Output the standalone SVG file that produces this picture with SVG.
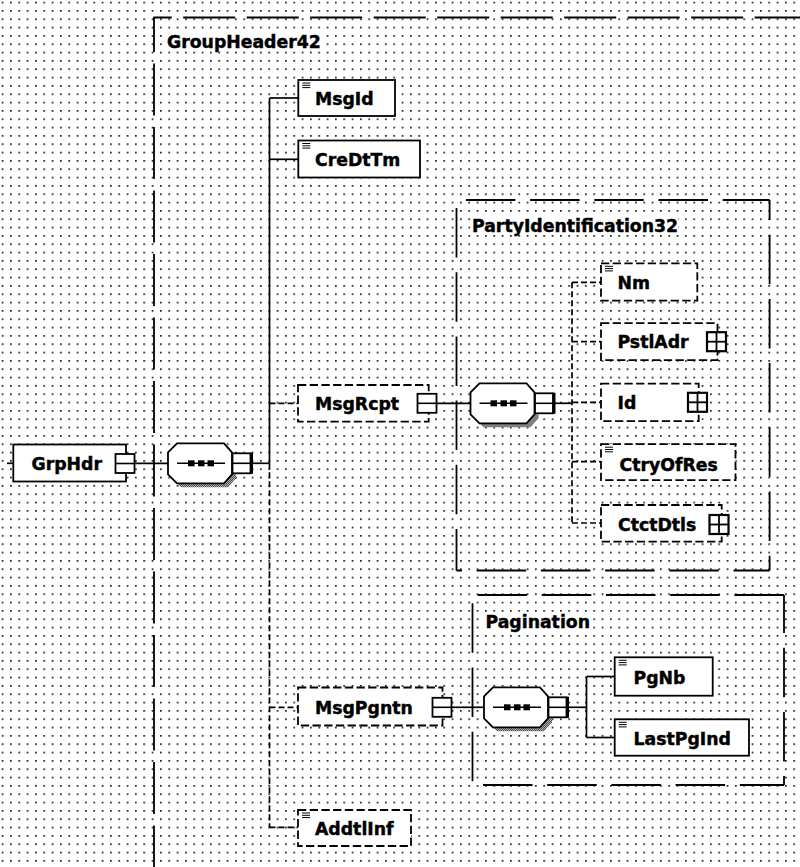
<svg xmlns="http://www.w3.org/2000/svg" xmlns:xlink="http://www.w3.org/1999/xlink" width="800" height="867" viewBox="0 0 800 867">
<style>
  .lbl{font-family:"DejaVu Sans","Liberation Sans",sans-serif;font-weight:bold;font-size:17.3px;fill:#000;stroke:#000;stroke-width:0.45}
  .box{fill:#fff;stroke:#000;stroke-width:1.8}
  .opt{stroke-dasharray:8.3 3.4}
  .type{fill:none;stroke:#000;stroke-width:1.8}
  .tA{stroke-dasharray:52 11.5}
  .tB{stroke-dasharray:49.5 14.7}
  .c{fill:none;stroke:#000;stroke-width:1.7}
  .d{stroke-dasharray:6 3}
  .tbg{fill:#fff}
</style>
<defs>
  <pattern id="grid" x="1.7" y="1.7" width="8.333" height="8.333" patternUnits="userSpaceOnUse">
    <rect x="0" y="0" width="1.7" height="1.7" fill="#222"/>
  </pattern>
  <pattern id="dith" x="0" y="0" width="2" height="2" patternUnits="userSpaceOnUse">
    <rect width="2" height="2" fill="#fff"/>
    <rect x="0" y="0" width="1" height="1" fill="#000"/>
    <rect x="1" y="1" width="1" height="1" fill="#000"/>
  </pattern>
  <g id="btnMinus">
    <rect x="0" y="0" width="19" height="19" fill="#fff" stroke="#000" stroke-width="1.8"/>
    <line x1="0" y1="9.5" x2="19" y2="9.5" stroke="#000" stroke-width="1.6"/>
  </g>
  <g id="btnPlus">
    <rect x="0" y="0" width="19" height="19" fill="#fff" stroke="#000" stroke-width="2.2"/>
    <line x1="0" y1="9.5" x2="19" y2="9.5" stroke="#000" stroke-width="1.8"/>
    <line x1="9.5" y1="0" x2="9.5" y2="19" stroke="#000" stroke-width="1.8"/>
  </g>
  <g id="icon" stroke="#000" stroke-width="1">
    <line x1="4" y1="3" x2="12" y2="3"/>
    <line x1="4" y1="5.3" x2="12" y2="5.3"/>
    <line x1="4" y1="7.6" x2="12" y2="7.6"/>
  </g>
  <g id="seq">
    <polygon points="13,-16 60,-16 68,-7 68,15 60,24 13,24 4,15 4,-7" fill="url(#dith)"/>
    <polygon points="9,-20 56,-20 64,-11 64,11 56,20 9,20 0,11 0,-11" fill="#fff" stroke="#000" stroke-width="1.8"/>
    <line x1="9" y1="0" x2="57" y2="0" stroke="#000" stroke-width="1.5"/>
    <rect x="20" y="-3" width="6.5" height="6" fill="#000"/>
    <rect x="30" y="-3" width="6.5" height="6" fill="#000"/>
    <rect x="39.5" y="-3" width="6.5" height="6" fill="#000"/>
    <rect x="64.5" y="-10" width="18" height="20" fill="#fff" stroke="#000" stroke-width="1.8"/>
    <line x1="64.5" y1="0" x2="82.5" y2="0" stroke="#000" stroke-width="1.6"/>
    <line x1="83.5" y1="-10.5" x2="83.5" y2="10.5" stroke="#000" stroke-width="3"/>
  </g>
</defs>

<rect x="0" y="0" width="800" height="867" fill="#fff"/>
<rect x="0" y="0" width="800" height="867" fill="url(#grid)"/>

<!-- type containers -->
<g id="type-GroupHeader42">
  <line class="type tA" x1="153.3" y1="17.5" x2="800" y2="17.5" stroke-dashoffset="33.6"/>
  <line class="type tA" x1="154" y1="17.5" x2="154" y2="867" stroke-dashoffset="17.5"/>
  <rect class="tbg" x="166" y="34" width="160" height="16"/>
  <text class="lbl" x="167" y="48.3">GroupHeader42</text>
</g>
<g id="type-PartyIdentification32">
  <line class="type tB" x1="456.5" y1="200" x2="769.6" y2="200" stroke-dashoffset="54.8"/>
  <line class="type tB" x1="456.5" y1="200" x2="456.5" y2="570.5" stroke-dashoffset="56.2"/>
  <line class="type tB" x1="769.6" y1="200" x2="769.6" y2="570.5" stroke-dashoffset="29.5"/>
  <line class="type tB" x1="456.5" y1="570.5" x2="769.6" y2="570.5" stroke-dashoffset="44"/>
  <rect class="tbg" x="471" y="217" width="207" height="16"/>
  <text class="lbl" x="472" y="231.5">PartyIdentification32</text>
</g>
<g id="type-Pagination">
  <line class="type tB" x1="472.5" y1="595" x2="784" y2="595" stroke-dashoffset="59.1"/>
  <line class="type tB" x1="472.5" y1="595" x2="472.5" y2="785" stroke-dashoffset="55.9"/>
  <line class="type tB" x1="784" y1="595" x2="784" y2="785" stroke-dashoffset="11.5"/>
  <line class="type tB" x1="472.5" y1="785" x2="784" y2="785" stroke-dashoffset="53.7"/>
  <rect class="tbg" x="484.5" y="614" width="108" height="16"/>
  <text class="lbl" x="485.5" y="628.3">Pagination</text>
</g>

<!-- connectors -->
<g id="connectors">
  <path class="c" d="M7,463.3 H13"/>
  <path class="c" d="M135,463.3 H168"/>
  <path class="c" d="M252,463.3 H269.5"/>
  <path class="c" d="M269.5,98 V463.3"/>
  <path class="c d" d="M269.5,463.3 V827.3"/>
  <path class="c" d="M269.5,98 H298.3"/>
  <path class="c" d="M269.5,159.3 H298.3"/>
  <path class="c d" d="M269.5,403.3 H298"/>
  <path class="c d" d="M269.5,707.3 H298"/>
  <path class="c d" d="M269.5,827.3 H298"/>
  <path class="c" d="M437,403.3 H470.5"/>
  <path class="c" d="M555,403.3 H572"/>
  <path class="c d" d="M572,282.3 V523"/>
  <path class="c d" d="M572,282.3 H601"/>
  <path class="c d" d="M572,341.7 H601"/>
  <path class="c d" d="M572,402.3 H601"/>
  <path class="c d" d="M572,461.7 H601"/>
  <path class="c d" d="M572,523 H601"/>
  <path class="c" d="M452,707.3 H484"/>
  <path class="c" d="M568.5,707.3 H586.5"/>
  <path class="c" d="M586.5,676.5 V737.5"/>
  <path class="c" d="M586.5,676.5 H614.7"/>
  <path class="c" d="M586.5,737.5 H614.7"/>
</g>

<!-- compositors -->
<g id="seq-GroupHeader42"><use xlink:href="#seq" x="168" y="463.3"/></g>
<g id="seq-PartyIdentification32"><use xlink:href="#seq" x="470.5" y="403.3"/></g>
<g id="seq-Pagination"><use xlink:href="#seq" x="484" y="707.3"/></g>

<!-- elements -->
<g id="GrpHdr">
  <rect class="box" x="13.3" y="444.5" width="112.7" height="37"/>
  <text class="lbl" x="31.5" y="469.5">GrpHdr</text>
  <use xlink:href="#btnMinus" x="115.5" y="454"/>
</g>
<g id="MsgId">
  <rect class="box" x="298.3" y="80" width="96.7" height="36"/>
  <use xlink:href="#icon" x="298.3" y="80"/>
  <text class="lbl" x="315" y="105">MsgId</text>
</g>
<g id="CreDtTm">
  <rect class="box" x="298.3" y="140.5" width="121.7" height="37"/>
  <use xlink:href="#icon" x="298.3" y="140.5"/>
  <text class="lbl" x="315" y="165.5">CreDtTm</text>
</g>
<g id="MsgRcpt">
  <rect class="box opt" x="298" y="385" width="130.7" height="36.7"/>
  <text class="lbl" x="315" y="409.5">MsgRcpt</text>
  <use xlink:href="#btnMinus" x="417.5" y="393.8"/>
</g>
<g id="MsgPgntn">
  <rect class="box opt" x="298" y="687.5" width="144.5" height="38"/>
  <text class="lbl" x="315" y="713.5">MsgPgntn</text>
  <use xlink:href="#btnMinus" x="432.5" y="697.8"/>
</g>
<g id="AddtlInf">
  <rect class="box opt" x="298" y="810" width="113" height="36"/>
  <use xlink:href="#icon" x="298" y="810"/>
  <text class="lbl" x="315" y="834.5">AddtlInf</text>
</g>
<g id="Nm">
  <rect class="box opt" x="601" y="263.3" width="96.3" height="37.4"/>
  <use xlink:href="#icon" x="601" y="263.3"/>
  <text class="lbl" x="617.5" y="289">Nm</text>
</g>
<g id="PstlAdr">
  <rect class="box opt" x="601" y="323.2" width="116.5" height="37"/>
  <text class="lbl" x="617.5" y="348">PstlAdr</text>
  <use xlink:href="#btnPlus" x="707" y="332.2"/>
</g>
<g id="Id">
  <rect class="box opt" x="601" y="383.7" width="97.7" height="37.5"/>
  <text class="lbl" x="617.5" y="408.5">Id</text>
  <use xlink:href="#btnPlus" x="688" y="392.8"/>
</g>
<g id="CtryOfRes">
  <rect class="box opt" x="601" y="444.2" width="134.5" height="36"/>
  <use xlink:href="#icon" x="601" y="444.2"/>
  <text class="lbl" x="619.5" y="470.5">CtryOfRes</text>
</g>
<g id="CtctDtls">
  <rect class="box opt" x="601" y="505" width="120.7" height="36.7"/>
  <text class="lbl" x="618" y="531">CtctDtls</text>
  <use xlink:href="#btnPlus" x="709.5" y="515"/>
</g>
<g id="PgNb">
  <rect class="box" x="614.7" y="657.3" width="98" height="38.4"/>
  <use xlink:href="#icon" x="614.7" y="657.3"/>
  <text class="lbl" x="633.5" y="684">PgNb</text>
</g>
<g id="LastPgInd">
  <rect class="box" x="614.7" y="719.3" width="134.3" height="36.4"/>
  <use xlink:href="#icon" x="614.7" y="719.3"/>
  <text class="lbl" x="633.5" y="745">LastPgInd</text>
</g>
</svg>
